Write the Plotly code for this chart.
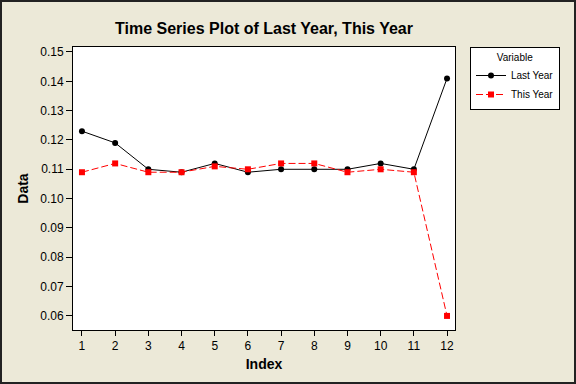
import plotly.graph_objects as go

index = list(range(1, 13))
last_year = [0.123, 0.119, 0.110, 0.109, 0.112, 0.109, 0.110, 0.110, 0.110, 0.112, 0.110, 0.141]
this_year = [0.109, 0.112, 0.109, 0.109, 0.111, 0.110, 0.112, 0.112, 0.109, 0.110, 0.109, 0.060]
y_ticks = [0.06, 0.07, 0.08, 0.09, 0.10, 0.11, 0.12, 0.13, 0.14, 0.15]

W, H = 576, 384
L, R, T, B = 73, 121, 47, 54
pw, ph = W - L - R, H - T - B

FONT = "Liberation Sans, Arial, sans-serif"

fig = go.Figure()
fig.add_trace(go.Scatter(
    x=index, y=last_year, name="Last Year", mode="lines+markers",
    line=dict(color="black", width=1),
    marker=dict(symbol="circle", size=6, color="black"),
))
fig.add_trace(go.Scatter(
    x=index, y=this_year, name="This Year", mode="lines+markers",
    line=dict(color="#ff0000", width=1, dash="7px,3px"),
    marker=dict(symbol="square", size=6, color="#ff0000"),
))

bg = "#ECE9D8"
fig.update_layout(
    width=W, height=H,
    margin=dict(l=L, r=R, t=T, b=B),
    paper_bgcolor=bg, plot_bgcolor="white",
    font=dict(family=FONT, size=12, color="black"),
    title=dict(text="<b>Time Series Plot of Last Year, This Year</b>",
               x=(L + pw / 2) / W, xanchor="center", y=1 - 28 / H, yanchor="middle",
               font=dict(size=16, color="black")),
    legend=dict(
        x=(470 - L) / pw, y=1.0, xanchor="left", yanchor="top",
        bgcolor="white", bordercolor="black", borderwidth=1,
        font=dict(size=10, color="black"),
        title=dict(text="Variable", side="top center", font=dict(size=10)),
        tracegroupgap=0, itemwidth=30,
    ),
    xaxis=dict(
        range=[0.73, 12.24], tickvals=index, ticktext=[str(i) for i in index],
        showgrid=False, zeroline=False, showline=True, linecolor="black", linewidth=1,
        mirror=True, ticks="outside", ticklen=5, tickcolor="black",
        title=dict(text="<b>Index</b>", font=dict(size=14), standoff=6),
    ),
    yaxis=dict(
        range=[0.0552, 0.1517], tickvals=y_ticks, tickformat=".2f",
        showgrid=False, zeroline=False, showline=True, linecolor="black", linewidth=1,
        mirror=True, ticks="outside", ticklen=6, tickcolor="black",
        title=dict(text="<b>Data</b>", font=dict(size=14), standoff=8),
    ),
    shapes=[dict(
        type="rect", xref="paper", yref="paper",
        x0=(-L + 1) / pw, x1=(W - L - 1) / pw,
        y0=(-B + 1) / ph, y1=(H - B - 1) / ph,
        line=dict(color="#222222", width=2), fillcolor="rgba(0,0,0,0)", layer="below",
    )],
)

fig.write_html(
    "out.html",
    config={"displayModeBar": False},
    post_script="document.body.style.margin='0';document.body.style.overflow='hidden';",
)
